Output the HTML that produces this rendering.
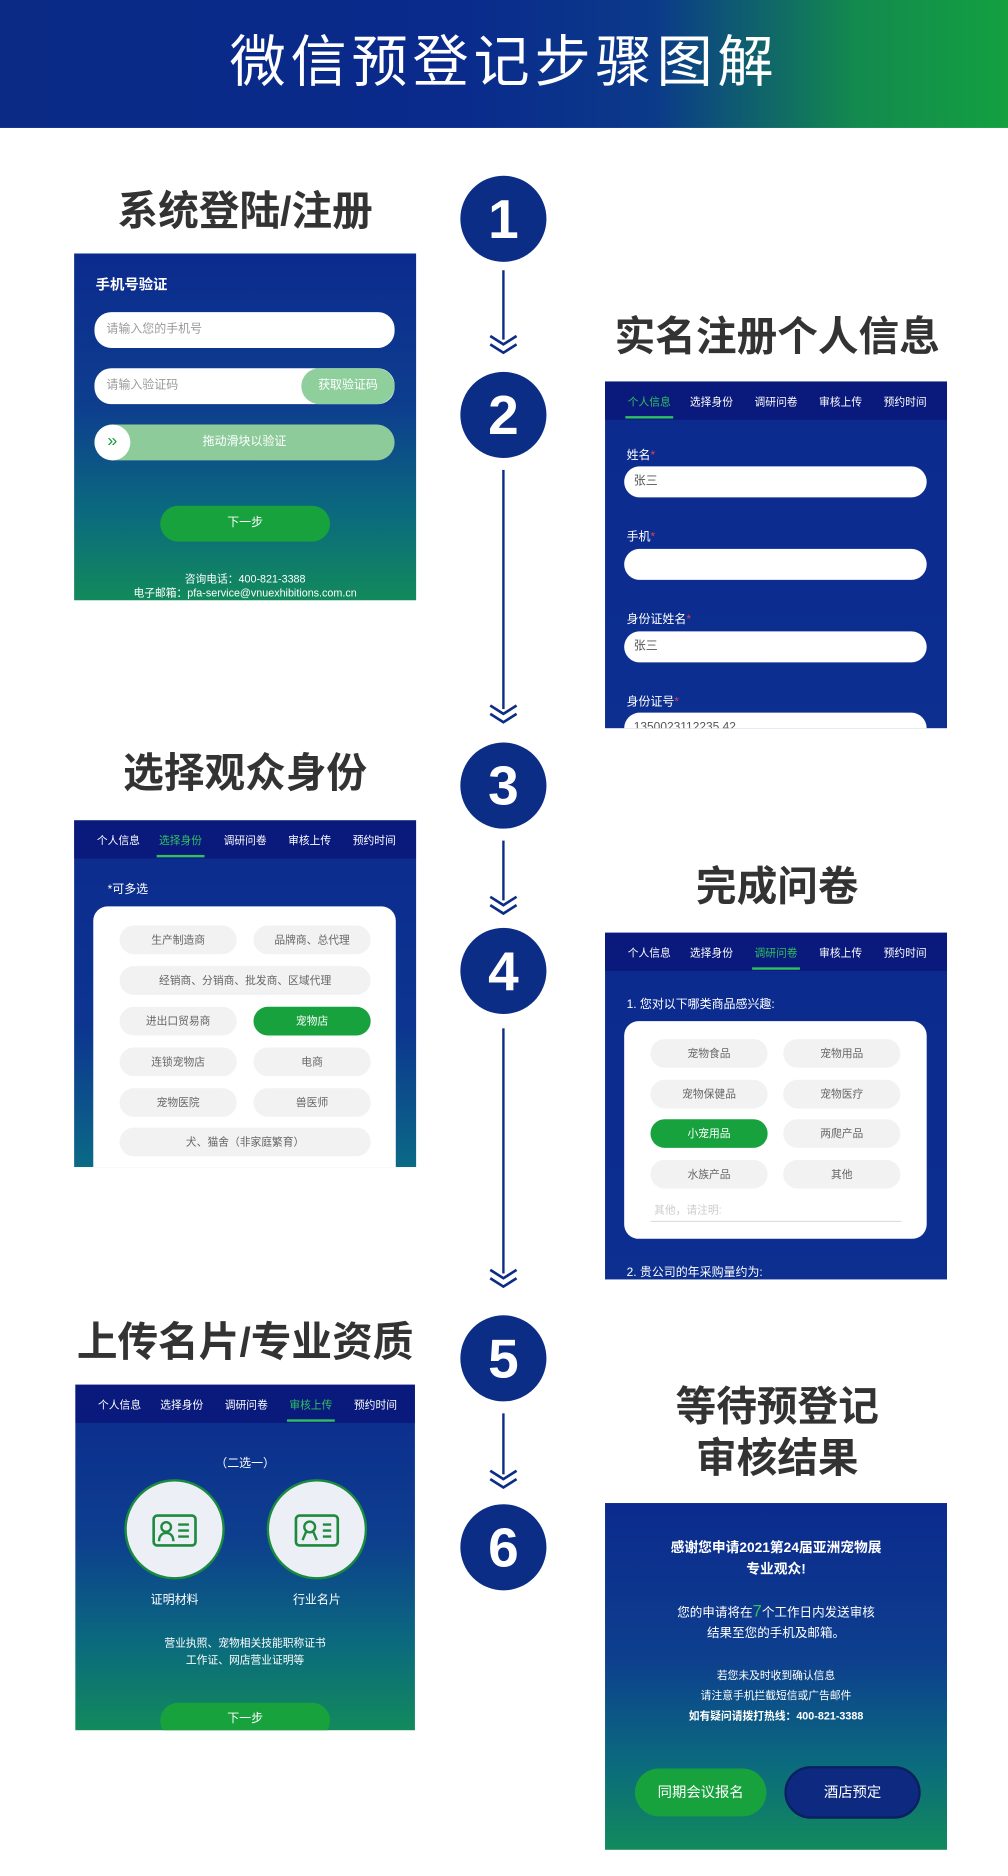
<!DOCTYPE html>
<html><head><meta charset="utf-8">
<style>
*{margin:0;padding:0;box-sizing:border-box}
html,body{width:1008px;height:1876px;overflow:hidden;background:#fff}
body{font-family:"Liberation Sans","Noto Sans CJK SC",sans-serif}
#w{position:absolute;left:0;top:0;width:843px;height:1569px;transform:scale(1.19573);transform-origin:0 0}
.a{position:absolute}
.hdr{left:0;top:0;width:843px;height:107px;background:linear-gradient(90deg,#0a2a86 0%,#0a2a8c 45%,#0b3a8a 65%,#138a4e 85%,#13a040 100%)}
.ttl{left:0;top:0;width:843px;height:107px;line-height:104px;text-align:center;color:#fff;font-size:47px;letter-spacing:4px}
.h{color:#333;font-size:34px;font-weight:bold;text-align:center;white-space:nowrap;line-height:40px}
.c{width:72px;height:72px;border-radius:50%;background:#0c2d85;color:#fff;font-size:46px;font-weight:bold;text-align:center;line-height:72px;left:385px}
.ln{left:420px;width:2px;background:#0c2d85}
.p{width:286px;height:290px;overflow:hidden;color:#fff}
.bg1{background:linear-gradient(180deg,#0c2a8e 0%,#0d3f8e 45%,#0b6a7e 75%,#128a5c 100%)}
.bg2{background:linear-gradient(180deg,#0c2a8e 0%,#0c2f90 100%)}
.bg3{background:linear-gradient(180deg,#0c2a8e 0%,#0c3590 60%,#0b6a86 100%)}
.tabs{left:0;top:0;width:286px;height:32px;background:#0a1a7c;font-size:9px}
.tabs span{position:absolute;top:10px;width:50px;text-align:center}
.tabs .on{color:#2fc060}
.tabs i{position:absolute;top:29px;height:2px;width:40px;background:#2fc060}
.in{background:#fff;border-radius:14px;color:#999;font-size:10px;padding-left:10px}
.chip{background:#f2f2f2;border-radius:12px;color:#666;font-size:9px;text-align:center;height:24px;line-height:24px}
.g{background:#18a23e;color:#fff}
.card{background:#fff;border-radius:12px}
.lb{font-size:10px;color:#fff}
.lb b{color:#e04050;font-weight:normal}
.t{text-align:center;width:286px;left:0;font-size:10px}
</style></head><body>
<div id="w">
<div class="a hdr"></div>
<div class="a ttl">微信预登记步骤图解</div>

<!-- timeline -->
<div class="a ln" style="top:226px;height:58px"></div>
<div class="a ln" style="top:393px;height:200px"></div>
<div class="a ln" style="top:703px;height:50px"></div>
<div class="a ln" style="top:860px;height:205px"></div>
<div class="a ln" style="top:1182px;height:51px"></div>
<svg class="a" style="left:0;top:0" width="843" height="1569">
<g fill="none" stroke="#0c2d85" stroke-width="2.2">
<path d="M410 281l11 7 11-7M410 288l11 7 11-7"/>
<path d="M410 590l11 7 11-7M410 597l11 7 11-7"/>
<path d="M410 750l11 7 11-7M410 757l11 7 11-7"/>
<path d="M410 1062l11 7 11-7M410 1069l11 7 11-7"/>
<path d="M410 1230l11 7 11-7M410 1237l11 7 11-7"/>
</g></svg>
<div class="a c" style="top:147px">1</div>
<div class="a c" style="top:311px">2</div>
<div class="a c" style="top:621px">3</div>
<div class="a c" style="top:776px">4</div>
<div class="a c" style="top:1100px">5</div>
<div class="a c" style="top:1258px">6</div>

<!-- titles -->
<div class="a h" style="left:55px;width:300px;top:157px">系统登陆/注册</div>
<div class="a h" style="left:500px;width:300px;top:262px">实名注册个人信息</div>
<div class="a h" style="left:55px;width:300px;top:627px">选择观众身份</div>
<div class="a h" style="left:500px;width:300px;top:722px">完成问卷</div>
<div class="a h" style="left:40px;width:330px;top:1103px">上传名片/专业资质</div>
<div class="a h" style="left:500px;width:300px;top:1157px">等待预登记</div>
<div class="a h" style="left:500px;width:300px;top:1200px">审核结果</div>

<!-- panel 1 -->
<div class="a p bg1" style="left:62px;top:212px">
<div class="a" style="left:18px;top:17px;font-size:12px;font-weight:bold">手机号验证</div>
<div class="a in" style="left:17px;top:49px;width:251px;height:30px;line-height:30px">请输入您的手机号</div>
<div class="a in" style="left:17px;top:96px;width:251px;height:30px;line-height:30px">请输入验证码</div>
<div class="a" style="left:190px;top:96px;width:78px;height:30px;line-height:30px;border-radius:15px;background:#8fcf9c;color:#fff;font-size:10px;text-align:center">获取验证码</div>
<div class="a" style="left:17px;top:143px;width:251px;height:30px;line-height:30px;border-radius:15px;background:#8ecb9b;font-size:10px;text-align:center">拖动滑块以验证</div>
<div class="a" style="left:17px;top:143px;width:30px;height:30px;line-height:28px;border-radius:50%;background:#fff;color:#1a9a40;font-size:15px;text-align:center">»</div>
<div class="a g" style="left:72px;top:211px;width:142px;height:30px;line-height:30px;border-radius:15px;font-size:10px;text-align:center">下一步</div>
<div class="a t" style="top:265px;font-size:9px">咨询电话：400-821-3388</div>
<div class="a t" style="top:277px;font-size:9px">电子邮箱：pfa-service@vnuexhibitions.com.cn</div>
</div>

<!-- panel 2 -->
<div class="a p bg2" style="left:506px;top:319px">
<div class="a tabs"><span class="on" style="left:12px">个人信息</span><span style="left:64px">选择身份</span><span style="left:118px">调研问卷</span><span style="left:172px">审核上传</span><span style="left:226px">预约时间</span><i style="left:17px"></i></div>
<div class="a lb" style="left:18px;top:53px">姓名<b>*</b></div>
<div class="a in" style="left:16px;top:71px;width:253px;height:26px;line-height:26px;color:#555;padding-left:8px">张三</div>
<div class="a lb" style="left:18px;top:121px">手机<b>*</b></div>
<div class="a in" style="left:16px;top:140px;width:253px;height:26px"></div>
<div class="a lb" style="left:18px;top:190px">身份证姓名<b>*</b></div>
<div class="a in" style="left:16px;top:209px;width:253px;height:26px;line-height:26px;color:#555;padding-left:8px">张三</div>
<div class="a lb" style="left:18px;top:259px">身份证号<b>*</b></div>
<div class="a in" style="left:16px;top:277px;width:253px;height:26px;line-height:26px;color:#555;padding-left:8px">1350023112235 42</div>
</div>

<!-- panel 3 -->
<div class="a p bg3" style="left:62px;top:686px">
<div class="a tabs"><span style="left:12px">个人信息</span><span class="on" style="left:64px">选择身份</span><span style="left:118px">调研问卷</span><span style="left:172px">审核上传</span><span style="left:226px">预约时间</span><i style="left:69px"></i></div>
<div class="a" style="left:28px;top:49px;font-size:10px">*可多选</div>
<div class="a card" style="left:16px;top:72px;width:253px;height:240px"></div>
<div class="a chip" style="left:38px;top:88px;width:98px">生产制造商</div>
<div class="a chip" style="left:150px;top:88px;width:98px">品牌商、总代理</div>
<div class="a chip" style="left:38px;top:122px;width:210px">经销商、分销商、批发商、区域代理</div>
<div class="a chip" style="left:38px;top:156px;width:98px">进出口贸易商</div>
<div class="a chip g" style="left:150px;top:156px;width:98px">宠物店</div>
<div class="a chip" style="left:38px;top:190px;width:98px">连锁宠物店</div>
<div class="a chip" style="left:150px;top:190px;width:98px">电商</div>
<div class="a chip" style="left:38px;top:224px;width:98px">宠物医院</div>
<div class="a chip" style="left:150px;top:224px;width:98px">兽医师</div>
<div class="a chip" style="left:38px;top:257px;width:210px">犬、猫舍（非家庭繁育）</div>
</div>

<!-- panel 4 -->
<div class="a p bg2" style="left:506px;top:780px">
<div class="a tabs"><span style="left:12px">个人信息</span><span style="left:64px">选择身份</span><span class="on" style="left:118px">调研问卷</span><span style="left:172px">审核上传</span><span style="left:226px">预约时间</span><i style="left:123px"></i></div>
<div class="a" style="left:18px;top:51px;font-size:10px">1. 您对以下哪类商品感兴趣:</div>
<div class="a card" style="left:16px;top:74px;width:253px;height:182px"></div>
<div class="a chip" style="left:38px;top:89px;width:98px">宠物食品</div>
<div class="a chip" style="left:149px;top:89px;width:98px">宠物用品</div>
<div class="a chip" style="left:38px;top:123px;width:98px">宠物保健品</div>
<div class="a chip" style="left:149px;top:123px;width:98px">宠物医疗</div>
<div class="a chip g" style="left:38px;top:156px;width:98px">小宠用品</div>
<div class="a chip" style="left:149px;top:156px;width:98px">两爬产品</div>
<div class="a chip" style="left:38px;top:190px;width:98px">水族产品</div>
<div class="a chip" style="left:149px;top:190px;width:98px">其他</div>
<div class="a" style="left:41px;top:225px;font-size:9px;color:#ccc">其他，请注明:</div>
<div class="a" style="left:38px;top:241px;width:210px;height:1px;background:#ddd"></div>
<div class="a" style="left:18px;top:275px;font-size:10px">2. 贵公司的年采购量约为:</div>
</div>

<!-- panel 5 -->
<div class="a p bg1" style="left:63px;top:1158px;width:284px;height:289px">
<div class="a tabs" style="width:284px"><span style="left:12px">个人信息</span><span style="left:64px">选择身份</span><span style="left:118px">调研问卷</span><span class="on" style="left:172px">审核上传</span><span style="left:226px">预约时间</span><i style="left:177px"></i></div>
<div class="a t" style="top:57px;width:284px">（二选一）</div>
<div class="a" style="left:41px;top:79px;width:84px;height:84px;border-radius:50%;background:#eceff5;border:2px solid #1a8a40"></div>
<div class="a" style="left:160px;top:79px;width:84px;height:84px;border-radius:50%;background:#eceff5;border:2px solid #1a8a40"></div>
<svg class="a" style="left:64px;top:108px" width="38" height="28"><rect x="1.5" y="1.5" width="35" height="25" rx="3" fill="none" stroke="#1f8a3e" stroke-width="2.2"/><circle cx="12" cy="11" r="4" fill="none" stroke="#1f8a3e" stroke-width="2"/><path d="M6 23c0-5 3-7 6-7s6 2 6 7" fill="none" stroke="#1f8a3e" stroke-width="2"/><path d="M22 9h9M22 14h9M22 19h9" stroke="#1f8a3e" stroke-width="2"/></svg>
<svg class="a" style="left:183px;top:108px" width="38" height="28"><rect x="1.5" y="1.5" width="35" height="25" rx="3" fill="none" stroke="#1f8a3e" stroke-width="2.2"/><circle cx="13" cy="11" r="4.5" fill="none" stroke="#1f8a3e" stroke-width="2"/><path d="M10 15l-3 7M16 15l3 7" stroke="#1f8a3e" stroke-width="2"/><path d="M24 9h7M24 14h7M24 19h7" stroke="#1f8a3e" stroke-width="2"/></svg>
<div class="a" style="left:41px;top:171px;width:84px;text-align:center;font-size:10px">证明材料</div>
<div class="a" style="left:160px;top:171px;width:84px;text-align:center;font-size:10px">行业名片</div>
<div class="a t" style="top:209px;width:284px;font-size:9px">营业执照、宠物相关技能职称证书</div>
<div class="a t" style="top:223px;width:284px;font-size:9px">工作证、网店营业证明等</div>
<div class="a g" style="left:71px;top:266px;width:142px;height:30px;line-height:28px;border-radius:15px;font-size:10px;text-align:center">下一步</div>
</div>

<!-- panel 6 -->
<div class="a p bg1" style="left:506px;top:1257px">
<div class="a t" style="top:29px;font-size:11.5px;font-weight:bold">感谢您申请2021第24届亚洲宠物展</div>
<div class="a t" style="top:47px;font-size:11.5px;font-weight:bold">专业观众!</div>
<div class="a t" style="top:82px;font-size:10.5px">您的申请将在<span style="color:#2fc060;font-size:14px">7</span>个工作日内发送审核</div>
<div class="a t" style="top:101px;font-size:10.5px">结果至您的手机及邮箱。</div>
<div class="a t" style="top:137px;font-size:9px">若您未及时收到确认信息</div>
<div class="a t" style="top:154px;font-size:9px">请注意手机拦截短信或广告邮件</div>
<div class="a t" style="top:171px;font-size:9px;font-weight:bold">如有疑问请拨打热线：400-821-3388</div>
<div class="a g" style="left:25px;top:222px;width:110px;height:40px;line-height:40px;border-radius:20px;font-size:12px;text-align:center">同期会议报名</div>
<div class="a" style="left:150px;top:220px;width:114px;height:44px;line-height:40px;border-radius:22px;background:#0d2a80;border:2px solid #0a2060;font-size:12px;text-align:center">酒店预定</div>
</div>
</div>
</body></html>
